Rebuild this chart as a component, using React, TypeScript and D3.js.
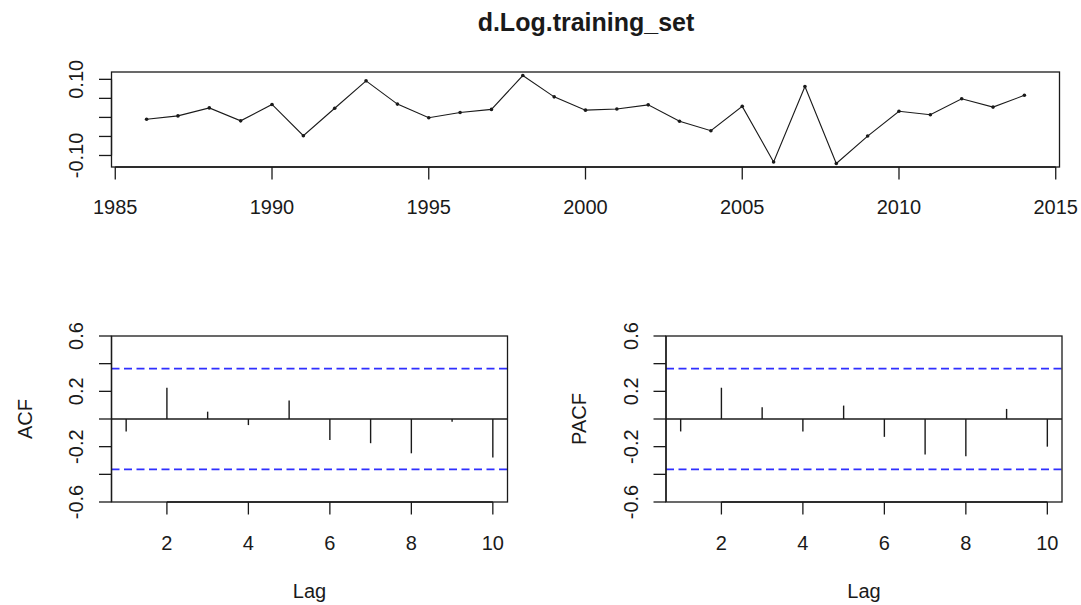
import React, { useEffect, useRef } from 'react';
import * as d3 from 'd3';

// d.Log.training_set, yearly 1986..2014
const years = [1986, 1987, 1988, 1989, 1990, 1991, 1992, 1993, 1994, 1995, 1996, 1997, 1998, 1999, 2000,
    2001, 2002, 2003, 2004, 2005, 2006, 2007, 2008, 2009, 2010, 2011, 2012, 2013, 2014]
const seriesValues = [-0.005, 0.004, 0.025, -0.009, 0.034, -0.048, 0.024, 0.096, 0.035, -0.001, 0.013, 0.021, 0.110, 0.054, 0.019,
    0.022, 0.033, -0.010, -0.035, 0.029, -0.117, 0.081, -0.121, -0.049, 0.016, 0.007, 0.049, 0.027, 0.058]

const lags = [1, 2, 3, 4, 5, 6, 7, 8, 9, 10]
const acfValues = [-0.090, 0.226, 0.053, -0.044, 0.134, -0.151, -0.175, -0.248, -0.019, -0.279]
const pacfValues = [-0.090, 0.226, 0.085, -0.090, 0.097, -0.129, -0.256, -0.270, 0.073, -0.200]
const ciBound = 0.364

const yearTicks = [1985, 1990, 1995, 2000, 2005, 2010, 2015]
const seriesTicks = [-0.10, -0.05, 0.00, 0.05, 0.10]
const seriesTickLabels = ['-0.10', '', '', '', '0.10']
const lagTicks = [2, 4, 6, 8, 10]
const corrTicks = [-0.6, -0.4, -0.2, 0, 0.2, 0.4, 0.6]
const corrTickLabels = ['-0.6', '', '-0.2', '', '0.2', '', '0.6']

const FONT = '"Liberation Sans", Arial, sans-serif'
const INK = '#1a1a1a'

function App() {
    const svgEl = useRef<SVGSVGElement>(null)

    useEffect(() => {
        const svg = d3.select(svgEl.current)
        svg.selectAll('*').remove()

        // title
        svg.append('text')
            .attr('x', 586).attr('y', 31)
            .attr('text-anchor', 'middle')
            .style('font', `bold 25px ${FONT}`)
            .attr('fill', INK)
            .text('d.Log.training_set')

        // ---- top panel: the series ----
        const box = { left: 111.5, right: 1059.5, top: 72, bottom: 167 }
        const [xmin, xmax] = d3.extent(years) as [number, number]
        const [ymin, ymax] = d3.extent(seriesValues) as [number, number]
        const xpad = (xmax - xmin) * 0.04
        const ypad = (ymax - ymin) * 0.04
        const x = d3.scaleLinear().domain([xmin - xpad, xmax + xpad]).range([box.left, box.right])
        const y = d3.scaleLinear().domain([ymin - ypad, ymax + ypad]).range([box.bottom, box.top])

        const top = svg.append('g')
        const line = d3.line<number>().x((d, i) => x(years[i])).y(d => y(d))
        top.append('path')
            .attr('d', line(seriesValues))
            .attr('fill', 'none').attr('stroke', INK).attr('stroke-width', 1.1)
        top.selectAll('circle').data(seriesValues).enter().append('circle')
            .attr('cx', (d, i) => x(years[i])).attr('cy', d => y(d)).attr('r', 1.8)
            .attr('fill', INK)

        drawBox(top, box)
        // x axis
        top.append('line')
            .attr('x1', x(yearTicks[0])).attr('x2', x(yearTicks[yearTicks.length - 1]))
            .attr('y1', box.bottom).attr('y2', box.bottom)
            .attr('stroke', INK).attr('stroke-width', 1.3)
        yearTicks.forEach(t => {
            top.append('line').attr('x1', x(t)).attr('x2', x(t)).attr('y1', box.bottom).attr('y2', box.bottom + 12.5)
                .attr('stroke', INK).attr('stroke-width', 1.3)
            top.append('text').attr('x', x(t)).attr('y', 213.5).attr('text-anchor', 'middle')
                .style('font', `20px ${FONT}`).attr('fill', INK).text(String(t))
        })
        yAxis(top, y, box.left, seriesTicks, seriesTickLabels)

        // ---- bottom panels: ACF / PACF ----
        corrPanel(svg, { left: 111.5, right: 507.5, top: 336, bottom: 502 }, acfValues, 'ACF')
        corrPanel(svg, { left: 666, right: 1062, top: 336, bottom: 502 }, pacfValues, 'PACF')
    }, [])

    function drawBox(g: any, b: any) {
        g.append('rect')
            .attr('x', b.left).attr('y', b.top)
            .attr('width', b.right - b.left).attr('height', b.bottom - b.top)
            .attr('fill', 'none').attr('stroke', INK).attr('stroke-width', 1.3)
    }

    function yAxis(g: any, y: any, left: number, ticks: number[], labels: string[]) {
        g.append('line')
            .attr('x1', left).attr('x2', left)
            .attr('y1', y(ticks[0])).attr('y2', y(ticks[ticks.length - 1]))
            .attr('stroke', INK).attr('stroke-width', 1.3)
        ticks.forEach((t, i) => {
            g.append('line').attr('x1', left - 12.5).attr('x2', left).attr('y1', y(t)).attr('y2', y(t))
                .attr('stroke', INK).attr('stroke-width', 1.3)
            if (labels[i]) {
                g.append('text')
                    .attr('transform', `translate(${left - 28.5},${y(t)}) rotate(-90)`)
                    .attr('text-anchor', 'middle')
                    .style('font', `20px ${FONT}`).attr('fill', INK)
                    .text(labels[i])
            }
        })
    }

    function corrPanel(svg: any, b: any, values: number[], label: string) {
        const g = svg.append('g')
        const x = d3.scaleLinear().domain([0.64, 10.36]).range([b.left, b.right])
        const y = d3.scaleLinear().domain([-0.6, 0.6]).range([b.bottom, b.top])

        // confidence bounds
        ;[ciBound, -ciBound].forEach(v => {
            g.append('line')
                .attr('x1', b.left).attr('x2', b.right).attr('y1', y(v)).attr('y2', y(v))
                .attr('stroke', '#2f2fff').attr('stroke-width', 1.8).attr('stroke-dasharray', '8,4.5')
        })
        // zero line
        g.append('line')
            .attr('x1', b.left).attr('x2', b.right).attr('y1', y(0)).attr('y2', y(0))
            .attr('stroke', INK).attr('stroke-width', 1.3)
        // spikes
        g.selectAll('line.spike').data(values).enter().append('line')
            .attr('class', 'spike')
            .attr('x1', (d: number, i: number) => x(lags[i])).attr('x2', (d: number, i: number) => x(lags[i]))
            .attr('y1', y(0)).attr('y2', (d: number) => y(d))
            .attr('stroke', INK).attr('stroke-width', 1.4)

        drawBox(g, b)
        // x axis
        g.append('line')
            .attr('x1', x(lagTicks[0])).attr('x2', x(lagTicks[lagTicks.length - 1]))
            .attr('y1', b.bottom).attr('y2', b.bottom)
            .attr('stroke', INK).attr('stroke-width', 1.3)
        lagTicks.forEach(t => {
            g.append('line').attr('x1', x(t)).attr('x2', x(t)).attr('y1', b.bottom).attr('y2', b.bottom + 12.5)
                .attr('stroke', INK).attr('stroke-width', 1.3)
            g.append('text').attr('x', x(t)).attr('y', 550).attr('text-anchor', 'middle')
                .style('font', `20px ${FONT}`).attr('fill', INK).text(String(t))
        })
        yAxis(g, y, b.left, corrTicks, corrTickLabels)

        g.append('text')
            .attr('x', (b.left + b.right) / 2).attr('y', 598).attr('text-anchor', 'middle')
            .style('font', `20px ${FONT}`).attr('fill', INK).text('Lag')
        g.append('text')
            .attr('transform', `translate(${b.left - 80},${(b.top + b.bottom) / 2}) rotate(-90)`)
            .attr('text-anchor', 'middle')
            .style('font', `20px ${FONT}`).attr('fill', INK).text(label)
    }

    return (
        <div style={{ position: 'absolute', left: 0, top: 0 }}>
            <svg width={1081} height={605} ref={svgEl} style={{ display: 'block', background: '#fff' }}></svg>
        </div>
    )
}

export default App
